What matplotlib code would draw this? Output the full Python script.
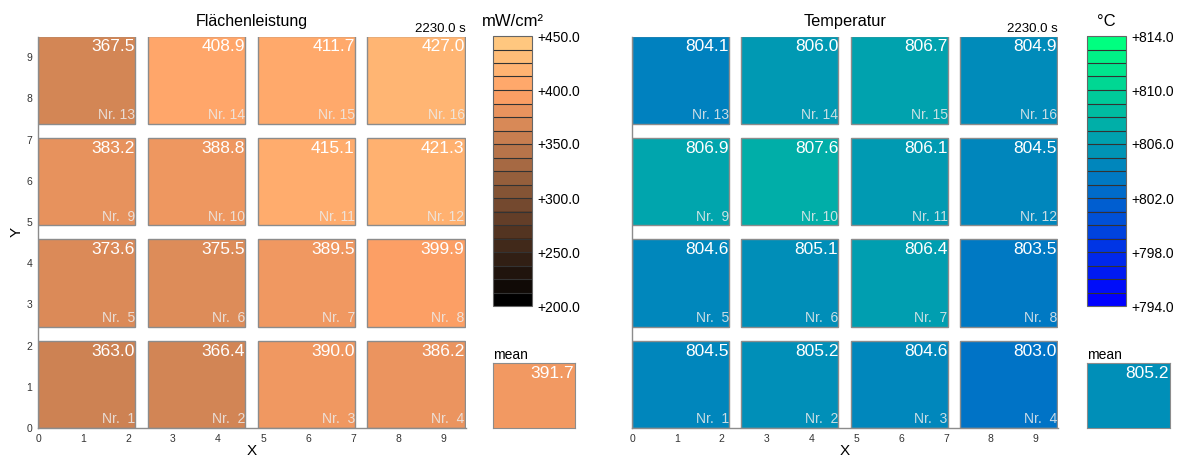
import matplotlib
matplotlib.use("Agg")
import matplotlib.pyplot as plt
import numpy as np
from matplotlib.colors import BoundaryNorm, ListedColormap, Normalize
from matplotlib.patches import Rectangle
from matplotlib.cm import ScalarMappable

plt.rcParams['font.family'] = ['Liberation Sans', 'DejaVu Sans']

# Zone numbers (bottom row first) and measured values
zones = list(range(1, 17))
power = [363.0, 366.4, 390.0, 386.2,
         373.6, 375.5, 389.5, 399.9,
         383.2, 388.8, 415.1, 421.3,
         367.5, 408.9, 411.7, 427.0]
temperature = [804.5, 805.2, 804.6, 803.0,
               804.6, 805.1, 806.4, 803.5,
               806.9, 807.6, 806.1, 804.5,
               804.1, 806.0, 806.7, 804.9]
power_mean = 391.7
temperature_mean = 805.2

power_ticks = [200.0, 250.0, 300.0, 350.0, 400.0, 450.0]
temperature_ticks = [794.0, 798.0, 802.0, 806.0, 810.0, 814.0]
grid_ticks = list(range(10))
time_label = "2230.0 s"

W, H = 1178, 459
fig = plt.figure(figsize=(W / 100, H / 100), dpi=100)


def px_axes(x0, y0, x1, y1):
    return fig.add_axes([x0 / W, 1 - y1 / H, (x1 - x0) / W, (y1 - y0) / H])


col_x = [0.0, 2.44, 4.88, 7.32]
row_y = [0.0, 2.46, 4.92, 7.38]
tile_w, tile_h = 2.16, 2.12
edge = '#8c8c8c'


def make_scales(ticks, cmap_name):
    base = plt.get_cmap(cmap_name)
    levels = np.linspace(ticks[0], ticks[-1], 21)
    bands = ListedColormap(base(np.linspace(0, 1, 20)))
    return base, Normalize(ticks[0], ticks[-1]), bands, BoundaryNorm(levels, 20)


def panel(ax, values, cmap, norm, title, title_size):
    ax.set_xlim(0, 9.5)
    ax.set_ylim(0, 9.5)
    for i, (z, v) in enumerate(zip(zones, values)):
        c, r = i % 4, i // 4
        x0, y0 = col_x[c], row_y[r]
        ax.add_patch(Rectangle((x0, y0), tile_w, tile_h,
                               facecolor=cmap(norm(v)), edgecolor=edge,
                               linewidth=1.0, zorder=2))
        ax.text(x0 + tile_w, y0 + tile_h - 0.07, f"{v:.1f}", ha='right',
                va='top', color='white', fontsize=12.5, zorder=3)
        ax.text(x0 + tile_w, y0 + 0.04, f"Nr. {z:2d}",
                ha='right', va='bottom', color='#ececec', alpha=0.85,
                fontsize=10, zorder=3)
    for s in ('top', 'right'):
        ax.spines[s].set_visible(False)
    for s in ('left', 'bottom'):
        ax.spines[s].set_color(edge)
        ax.spines[s].set_linewidth(1.0)
    ax.set_xticks(grid_ticks)
    ax.set_yticks(grid_ticks)
    ax.tick_params(length=0, labelsize=7.5, colors='#333333', pad=4)
    ax.set_xlabel('X', fontsize=11, labelpad=0)
    ax.text(0.5, 1.018, title, transform=ax.transAxes, ha='center',
            va='bottom', fontsize=title_size)
    ax.text(1.0, 1.004, time_label, transform=ax.transAxes, ha='right',
            va='bottom', fontsize=9.5)


def colorbar(cax, cmap, norm, ticks, unit):
    sm = ScalarMappable(norm=norm, cmap=cmap)
    cb = fig.colorbar(sm, cax=cax, drawedges=True, ticks=ticks)
    cb.ax.minorticks_off()
    cb.dividers.set_color('#333333')
    cb.dividers.set_linewidth(0.8)
    cb.outline.set_edgecolor('#666666')
    cb.outline.set_linewidth(0.8)
    cb.ax.set_yticks(ticks)
    cb.ax.set_yticklabels([f"+{t:.1f}" for t in ticks])
    cb.ax.tick_params(which='both', length=0, labelsize=10, pad=4)
    cax.text(0.5, 1.025, unit, transform=cax.transAxes, ha='center',
             va='bottom', fontsize=12)


def mean_box(ax, value, cmap, norm):
    ax.set_xticks([])
    ax.set_yticks([])
    ax.set_facecolor(cmap(norm(value)))
    for s in ax.spines.values():
        s.set_color(edge)
    ax.text(0.99, 0.95, f"{value:.1f}", transform=ax.transAxes, ha='right',
            va='top', color='white', fontsize=12.5)
    ax.text(0.0, 1.01, 'mean', transform=ax.transAxes, ha='left',
            va='bottom', fontsize=10)


pcmap, pnorm, pbands, pbnorm = make_scales(power_ticks, 'copper')
tcmap, tnorm, tbands, tbnorm = make_scales(temperature_ticks, 'winter')

ax1 = px_axes(38, 36.5, 465.5, 428)
panel(ax1, power, pcmap, pnorm, 'Flächenleistung', 11.5)
ax1.set_ylabel('Y', fontsize=11, labelpad=2)

ax2 = px_axes(632, 36.5, 1058, 428)
panel(ax2, temperature, tcmap, tnorm, 'Temperatur', 11.8)
ax2.set_yticklabels([])

colorbar(px_axes(493, 36, 532, 306), pbands, pbnorm, power_ticks, 'mW/cm²')
colorbar(px_axes(1087, 36, 1126, 306), tbands, tbnorm, temperature_ticks, '°C')

mean_box(px_axes(493, 363, 575, 428), power_mean, pcmap, pnorm)
mean_box(px_axes(1087, 363, 1170, 428), temperature_mean, tcmap, tnorm)

fig.savefig('out.png', dpi=100, facecolor='white')
